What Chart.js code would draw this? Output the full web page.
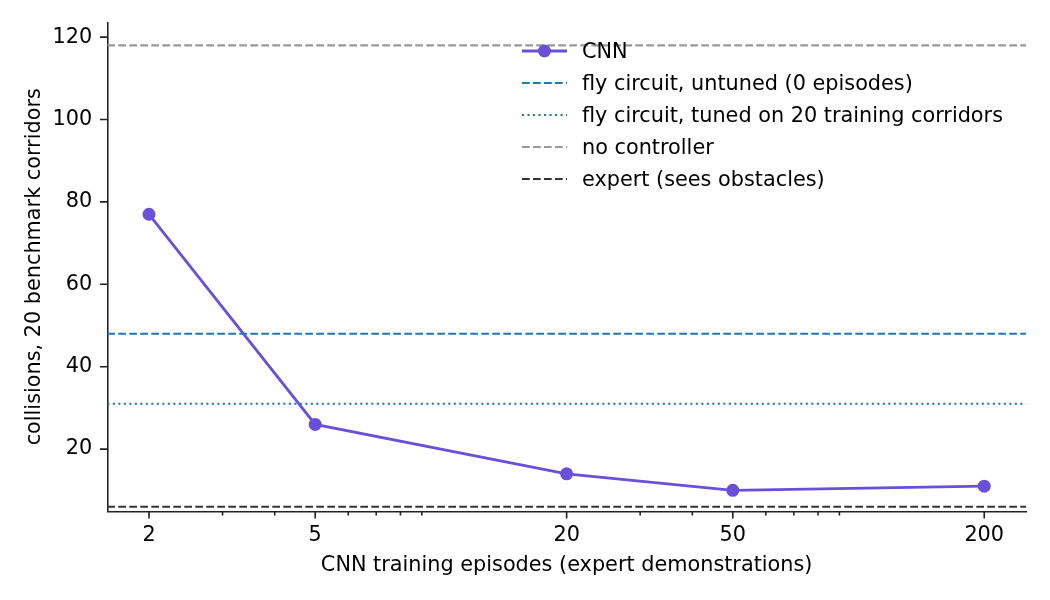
<!DOCTYPE html>
<html>
<head>
<meta charset="utf-8">
<script src="https://cdn.jsdelivr.net/npm/chart.js@4.4.0/dist/chart.umd.min.js"></script>
<style>
    body { margin: 0; background: #ffffff; }
    #wrap { position: relative; width: 1050px; height: 600px; }
    #legend {
        position: absolute; left: 520px; top: 35.5px;
        font-family: "DejaVu Sans", sans-serif; font-size: 20.8px; color: #000;
    }
    #legend .row { display: flex; align-items: center; height: 31.8px; white-space: nowrap; }
    #legend svg { width: 50px; height: 20px; margin-right: 12px; }
</style>
</head>
<body>
<div id="wrap">
    <canvas id="chart"></canvas>
    <div id="legend"></div>
</div>
<script>
// CNN results
const episodes = [2, 5, 20, 50, 200];
const cnnCollisions = [77, 26, 14, 10, 11];

// Reference controllers (horizontal lines)
const refNames = [
    'fly circuit, untuned (0 episodes)',
    'fly circuit, tuned on 20 training corridors',
    'no controller',
    'expert (sees obstacles)'
];
const refValues = [48, 31, 118, 6];
const refColors = ['#1f77b4', '#1f77b4', '#999999', '#333333'];
const refDashes = [[7.7, 3.3], [2.1, 3.4], [7.7, 3.3], [7.7, 3.3]];

// Axis ticks
const xMajorTicks = [2, 5, 20, 50, 200];
const xMinorTicks = [3, 4, 6, 7, 8, 9, 30, 40, 60, 70, 80, 90];
const yTicks = [20, 40, 60, 80, 100, 120];

const X_MIN = 1.589, X_MAX = 251.8;
const Y_MIN = 4.9, Y_MAX = 123.6;

const FONT = '"DejaVu Sans", sans-serif';
const FONT_SIZE = 20.8;
const CNN_COLOR = '#6a4fd8';

// Draw matplotlib-like tick marks (major longer than minor)
const tickMarks = {
    id: 'tickMarks',
    afterDraw(chart) {
        const ctx = chart.ctx;
        const xs = chart.scales.x, ys = chart.scales.y;
        const area = chart.chartArea;
        ctx.save();
        ctx.strokeStyle = '#222222';
        ctx.lineWidth = 1.6;
        ctx.beginPath();
        xs.ticks.forEach(t => {
            const px = xs.getPixelForValue(t.value);
            const len = xMajorTicks.includes(t.value) ? 7.3 : 4.2;
            ctx.moveTo(px, area.bottom);
            ctx.lineTo(px, area.bottom + len);
        });
        ys.ticks.forEach(t => {
            const py = ys.getPixelForValue(t.value);
            ctx.moveTo(area.left, py);
            ctx.lineTo(area.left - 7.3, py);
        });
        ctx.stroke();
        ctx.restore();
    }
};

const datasets = [{
    label: 'CNN',
    data: episodes.map((e, i) => ({ x: e, y: cnnCollisions[i] })),
    borderColor: CNN_COLOR,
    backgroundColor: CNN_COLOR,
    borderWidth: 2.8,
    pointRadius: 6.5,
    pointHoverRadius: 6.5,
    pointBorderWidth: 0,
    tension: 0,
    order: 1
}];

refValues.forEach((v, i) => {
    datasets.push({
        label: refNames[i],
        data: [{ x: X_MIN, y: v }, { x: X_MAX, y: v }],
        borderColor: refColors[i],
        borderWidth: 2.1,
        borderDash: refDashes[i],
        pointRadius: 0,
        pointHoverRadius: 0,
        order: 0
    });
});

// Keep the plot box fixed, ignore label overhang padding
function noEdgePadding(scale) {
    scale.paddingTop = 0;
    scale.paddingBottom = 0;
    scale.paddingLeft = 0;
    scale.paddingRight = 0;
}

const chart = new Chart(document.getElementById('chart'), {
    type: 'line',
    data: { datasets: datasets },
    options: {
        responsive: true,
        maintainAspectRatio: false,
        animation: false,
        devicePixelRatio: 1,
        layout: { padding: { top: 22.3, right: 24, left: 0, bottom: 0 } },
        plugins: {
            legend: { display: false },
            tooltip: { enabled: false }
        },
        scales: {
            x: {
                type: 'logarithmic',
                min: X_MIN,
                max: X_MAX,
                afterBuildTicks: function (scale) {
                    scale.ticks = xMajorTicks.concat(xMinorTicks)
                        .sort((a, b) => a - b)
                        .map(v => ({ value: v }));
                },
                afterFit: function (scale) { scale.height = 88.7; noEdgePadding(scale); },
                grid: { display: false, drawTicks: false },
                border: { display: true, color: '#222222', width: 1.6 },
                ticks: {
                    autoSkip: false,
                    maxRotation: 0,
                    padding: 12,
                    color: '#000000',
                    font: { family: FONT, size: FONT_SIZE },
                    callback: function (value) {
                        return xMajorTicks.includes(value) ? String(value) : '';
                    }
                },
                title: {
                    display: true,
                    text: 'CNN training episodes (expert demonstrations)',
                    color: '#000000',
                    font: { family: FONT, size: FONT_SIZE },
                    padding: { top: 22, bottom: 22 }
                }
            },
            y: {
                type: 'linear',
                min: Y_MIN,
                max: Y_MAX,
                afterBuildTicks: function (scale) {
                    scale.ticks = yTicks.map(v => ({ value: v }));
                },
                afterFit: function (scale) { scale.width = 107.3; noEdgePadding(scale); },
                grid: { display: false, drawTicks: false },
                border: { display: true, color: '#222222', width: 1.6 },
                ticks: {
                    padding: 15,
                    color: '#000000',
                    font: { family: FONT, size: FONT_SIZE }
                },
                title: {
                    display: true,
                    text: 'collisions, 20 benchmark corridors',
                    color: '#000000',
                    font: { family: FONT, size: FONT_SIZE },
                    padding: { top: 22, bottom: 22 }
                }
            }
        }
    },
    plugins: [tickMarks]
});

// Legend inside the plot, matplotlib style (no frame)
function buildLegend() {
    const box = document.getElementById('legend');
    const entries = [{ name: 'CNN', color: CNN_COLOR, dash: null, marker: true }];
    refNames.forEach((n, i) => entries.push({ name: n, color: refColors[i], dash: refDashes[i], marker: false }));
    entries.forEach(e => {
        const row = document.createElement('div');
        row.className = 'row';
        let svg = '<svg viewBox="0 0 50 20">';
        if (e.marker) {
            svg += '<line x1="2" y1="10" x2="47" y2="10" stroke="' + e.color + '" stroke-width="2.8"/>';
            svg += '<circle cx="24.5" cy="10" r="6.5" fill="' + e.color + '"/>';
        } else {
            svg += '<line x1="2" y1="10" x2="47" y2="10" stroke="' + e.color + '" stroke-width="2.1" stroke-dasharray="' + e.dash.join(' ') + '"/>';
        }
        svg += '</svg>';
        row.innerHTML = svg + '<span>' + e.name + '</span>';
        box.appendChild(row);
    });
}
buildLegend();
</script>
</body>
</html>
